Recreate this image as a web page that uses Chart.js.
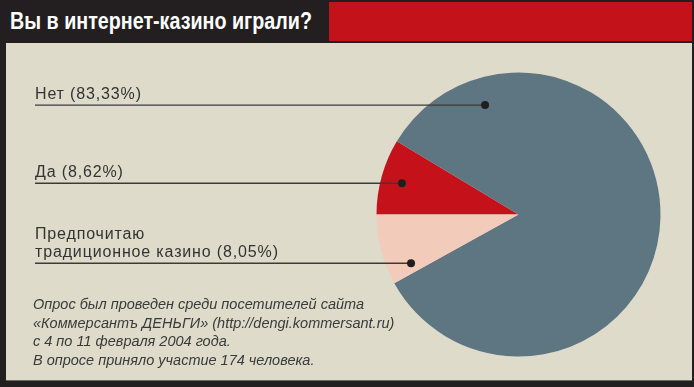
<!DOCTYPE html>
<html>
<head>
<meta charset="utf-8">
<script src="https://cdn.jsdelivr.net/npm/chart.js@4"></script>
<style>
  html, body { margin: 0; padding: 0; }
  body { width: 694px; height: 387px; background: #231f20; position: relative; overflow: hidden; }
  .panel { position: absolute; left: 6px; top: 43px; width: 686px; height: 337px; background: #dedbca; border-bottom: 1px solid #6b6a64; }
  .redbar { position: absolute; left: 329px; top: 2px; width: 363px; height: 39px; background: #c4121a; }
  .title { position: absolute; left: 10px; top: 7px; color: #fff; font-family: "Liberation Sans Narrow", "Liberation Sans", Arial, sans-serif; font-weight: bold; font-size: 23px; line-height: 28px; white-space: nowrap; transform-origin: 0 0; }
  .footer { position: absolute; left: 33px; top: 295px; color: #3a3a3a; font-family: "Liberation Sans", Arial, sans-serif; font-style: italic; font-size: 14.5px; line-height: 18.6px; white-space: nowrap; }
  canvas { position: absolute; left: 0; top: 0; }
</style>
</head>
<body>
<div class="panel"></div>
<div class="redbar"></div>
<div class="title" id="title">Вы в интернет-казино играли?</div>
<canvas id="c" width="694" height="387"></canvas>
<div class="footer">Опрос был проведен среди посетителей сайта<br>«Коммерсантъ ДЕНЬГИ» (http://dengi.kommersant.ru)<br>с 4 по 11 февраля 2004 года.<br>В опросе приняло участие 174 человека.</div>
<script>
// Data (slice order clockwise from the left horizontal)
const categories = ["Да", "Нет", "Предпочитаю традиционное казино"];
const values = [8.62, 83.33, 8.05];
const labelLines = [["Да (8,62%)"], ["Нет (83,33%)"], ["Предпочитаю", "традиционное казино (8,05%)"]];
const colors = ["#c5121a", "#5e7582", "#f3cbbb"];

// Fit title width to reference
(function () {
  const t = document.getElementById('title');
  const w = t.getBoundingClientRect().width;
  const target = 302;
  if (w > 0) t.style.transform = 'scaleX(' + (target / w) + ')';
})();

const leaderPlugin = {
  id: 'leaders',
  afterDatasetsDraw(chart, args, opts) {
    const ctx = chart.ctx;
    const meta = chart.getDatasetMeta(0);
    meta.data.forEach((arc, i) => {
      const p = arc.getProps(['x', 'y', 'outerRadius'], true);
      const a = opts.anchors[i];
      const ang = a.angle * Math.PI / 180;
      const dx = p.x + Math.cos(ang) * p.outerRadius * a.r;
      const dy = p.y + Math.sin(ang) * p.outerRadius * a.r;
      ctx.save();
      ctx.strokeStyle = '#3a3a3a';
      ctx.lineWidth = 1.3;
      ctx.beginPath();
      ctx.moveTo(opts.lineX, dy);
      ctx.lineTo(dx, dy);
      ctx.stroke();
      ctx.fillStyle = '#221e1f';
      ctx.beginPath();
      ctx.arc(dx, dy, 4, 0, Math.PI * 2);
      ctx.fill();
      ctx.fillStyle = '#333333';
      ctx.font = '16px "Liberation Sans", Arial, sans-serif';
      if ('letterSpacing' in ctx) ctx.letterSpacing = '0.85px';
      ctx.textBaseline = 'alphabetic';
      const lines = labelLines[i];
      lines.forEach((ln, k) => {
        const by = dy - 6 - (lines.length - 1 - k) * 18;
        ctx.fillText(ln, opts.lineX, by);
      });
      ctx.restore();
    });
  }
};

new Chart(document.getElementById('c'), {
  type: 'pie',
  data: {
    labels: categories,
    datasets: [{
      data: values,
      backgroundColor: colors,
      borderWidth: 0
    }]
  },
  options: {
    responsive: false,
    animation: false,
    devicePixelRatio: 1,
    rotation: 270,
    layout: { padding: { left: 376.5, right: 33.5, top: 72.5, bottom: 30.5 } },
    plugins: {
      legend: { display: false },
      tooltip: { enabled: false },
      title: { display: false },
      leaders: {
        lineX: 35,
        anchors: [
          { angle: 195, r: 0.85 },
          { angle: 253, r: 0.806 },
          { angle: 155.6, r: 0.831 }
        ]
      }
    }
  },
  plugins: [leaderPlugin]
});
</script>
</body>
</html>
